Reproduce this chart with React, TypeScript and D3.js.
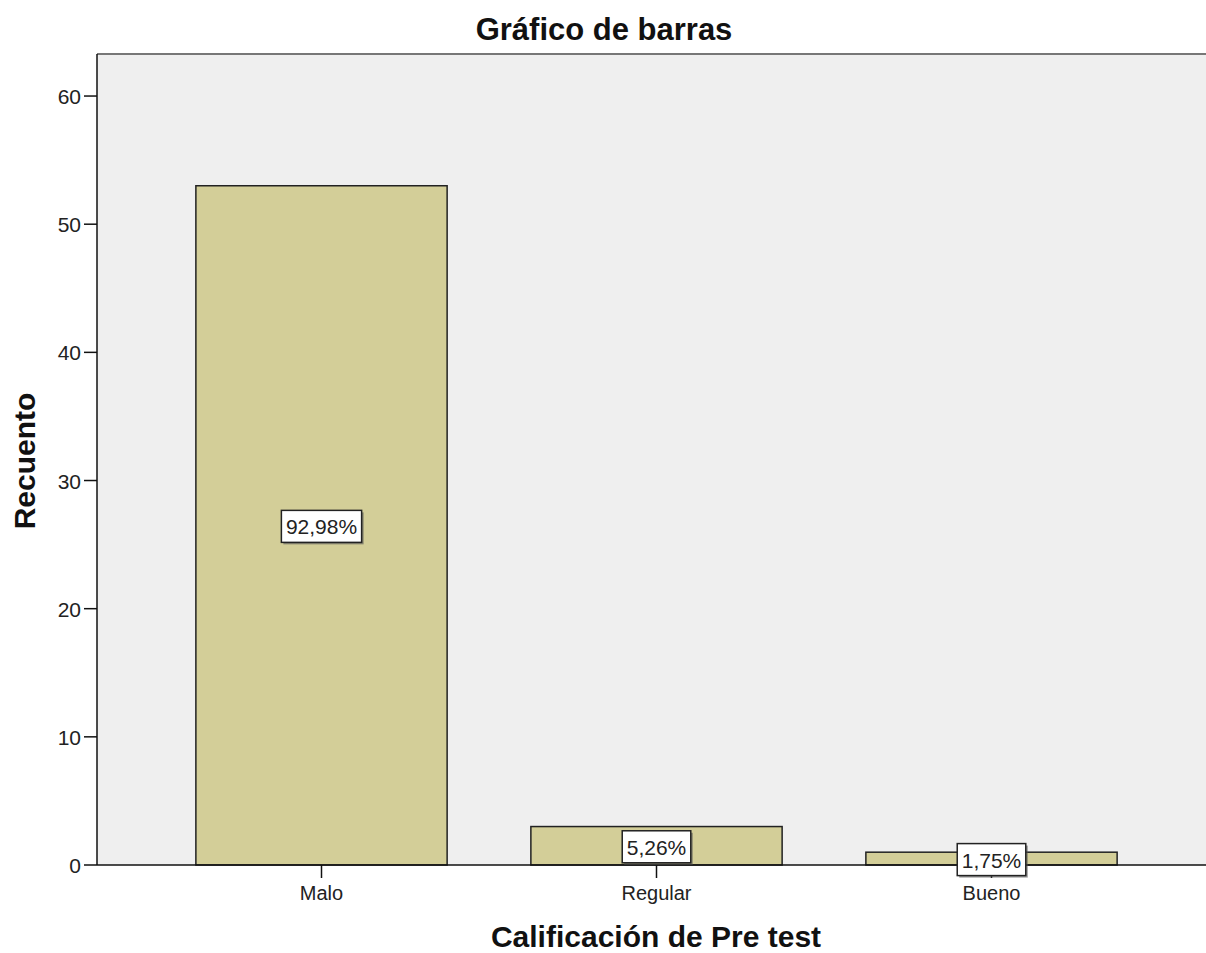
import React, { useEffect, useRef } from 'react';
import * as d3 from 'd3';

const categories = ['Malo', 'Regular', 'Bueno'];
const counts = [53, 3, 1];
const percentLabels = ['92,98%', '5,26%', '1,75%'];
const yTicks = [0, 10, 20, 30, 40, 50, 60];

const App: React.FC = () => {
  const svgRef = useRef<SVGSVGElement>(null);

  useEffect(() => {
    const svg = d3.select(svgRef.current);
    svg.selectAll('*').remove();

    const W = 1206;
    const H = 953;
    const left = 97;
    const top = 54;
    const bottom = 865;
    const right = 1206;
    const font = 'Arial, "Liberation Sans", sans-serif';

    svg.attr('width', W).attr('height', H).style('display', 'block').style('background', '#fff');

    const x = d3.scaleBand().domain(categories).range([154, 1159]).paddingInner(0.25).paddingOuter(0.125);
    const y = d3.scaleLinear().domain([0, 63.28]).range([bottom, top]);

    // plot background
    svg.append('rect')
      .attr('x', left).attr('y', top)
      .attr('width', right - left).attr('height', bottom - top)
      .attr('fill', '#efefef');

    // top border
    svg.append('line')
      .attr('x1', left).attr('x2', right).attr('y1', top).attr('y2', top)
      .attr('stroke', '#777').attr('stroke-width', 2);

    // bars
    svg.append('g').selectAll('rect')
      .data(counts)
      .join('rect')
      .attr('x', (_, i) => x(categories[i])!)
      .attr('y', d => y(d))
      .attr('width', x.bandwidth())
      .attr('height', d => bottom - y(d))
      .attr('fill', '#d3ce98')
      .attr('stroke', '#222')
      .attr('stroke-width', 1.5);

    // axes lines
    svg.append('line')
      .attr('x1', left).attr('x2', left).attr('y1', top).attr('y2', bottom)
      .attr('stroke', '#111').attr('stroke-width', 1.5);
    svg.append('line')
      .attr('x1', left).attr('x2', right).attr('y1', bottom).attr('y2', bottom)
      .attr('stroke', '#111').attr('stroke-width', 1.5);

    // y ticks
    const yAxis = svg.append('g');
    yTicks.forEach(t => {
      yAxis.append('line')
        .attr('x1', left - 13).attr('x2', left).attr('y1', y(t)).attr('y2', y(t))
        .attr('stroke', '#111').attr('stroke-width', 1.5);
      yAxis.append('text')
        .attr('x', left - 16).attr('y', y(t) + 8)
        .attr('text-anchor', 'end')
        .attr('font-family', font).attr('font-size', 21).attr('fill', '#222')
        .text(t);
    });

    // x ticks
    const xAxis = svg.append('g');
    categories.forEach(c => {
      const cx = x(c)! + x.bandwidth() / 2;
      xAxis.append('line')
        .attr('x1', cx).attr('x2', cx).attr('y1', bottom).attr('y2', bottom + 13)
        .attr('stroke', '#111').attr('stroke-width', 1.5);
      xAxis.append('text')
        .attr('x', cx).attr('y', bottom + 35)
        .attr('text-anchor', 'middle')
        .attr('font-family', font).attr('font-size', 20).attr('fill', '#222')
        .text(c);
    });

    // percentage labels
    const labels = svg.append('g');
    counts.forEach((d, i) => {
      const cx = x(categories[i])! + x.bandwidth() / 2;
      const cy = (y(d) + bottom) / 2 + 1;
      const t = labels.append('text')
        .attr('x', cx).attr('y', cy + 8)
        .attr('text-anchor', 'middle')
        .attr('font-family', font).attr('font-size', 21).attr('fill', '#222')
        .text(percentLabels[i]);
      const bb = (t.node() as SVGTextElement).getBBox();
      const bw = bb.width + 9;
      const bh = 32;
      labels.insert('rect', 'text')
        .attr('x', cx - bw / 2 + 2).attr('y', cy - bh / 2 + 2)
        .attr('width', bw).attr('height', bh)
        .attr('fill', '#555').attr('opacity', 0.6);
      labels.insert('rect', 'text')
        .attr('x', cx - bw / 2).attr('y', cy - bh / 2)
        .attr('width', bw).attr('height', bh)
        .attr('fill', '#fff').attr('stroke', '#222').attr('stroke-width', 1.5);
    });

    // title
    svg.append('text')
      .attr('x', 604).attr('y', 40)
      .attr('text-anchor', 'middle')
      .attr('font-family', font).attr('font-size', 31).attr('font-weight', 'bold').attr('fill', '#111')
      .text('Gráfico de barras');

    // y label
    svg.append('text')
      .attr('transform', `translate(35,461) rotate(-90)`)
      .attr('text-anchor', 'middle')
      .attr('font-family', font).attr('font-size', 30).attr('font-weight', 'bold').attr('fill', '#111')
      .text('Recuento');

    // x label
    svg.append('text')
      .attr('x', 656).attr('y', 947)
      .attr('text-anchor', 'middle')
      .attr('font-family', font).attr('font-size', 30).attr('font-weight', 'bold').attr('fill', '#111')
      .text('Calificación de Pre test');
  }, []);

  return <svg ref={svgRef} style={{ position: 'absolute', left: 0, top: 0 }} />;
};

export default App;
